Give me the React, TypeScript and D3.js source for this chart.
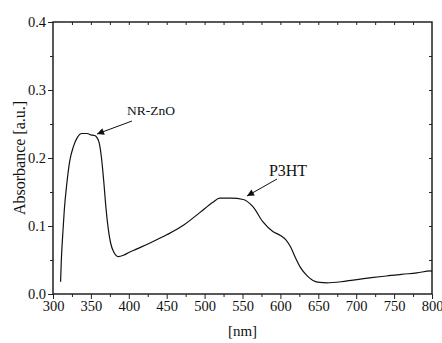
import { useRef, useEffect } from "react";
import * as d3 from "d3";

// wavelength [nm] and absorbance [a.u.]
const wavelength = [
  310, 311, 313, 315, 318, 322, 327, 332, 338, 345, 350, 355, 358, 361, 364, 367, 370, 373, 376, 380,
  386, 393, 400, 410, 428, 450, 472, 494, 511, 520, 535, 551, 564, 577, 590, 600, 607, 614, 620, 627,
  635, 643, 652, 661, 680, 696, 720, 740, 760, 780, 798, 800,
];
const absorbance = [
  0.018, 0.05, 0.09, 0.125, 0.16, 0.195, 0.217, 0.23, 0.236, 0.236, 0.234, 0.233, 0.23, 0.222, 0.2, 0.165, 0.125, 0.095, 0.075, 0.062,
  0.055, 0.057, 0.061, 0.066, 0.075, 0.087, 0.101, 0.12, 0.135, 0.141, 0.141, 0.139, 0.128, 0.106, 0.092, 0.086, 0.08, 0.068, 0.053, 0.038,
  0.027, 0.02, 0.017, 0.0165, 0.018, 0.0205, 0.024, 0.0265, 0.029, 0.031, 0.034, 0.033,
];
const xTicks = [300, 350, 400, 450, 500, 550, 600, 650, 700, 750, 800];
const yTicks = [0, 0.1, 0.2, 0.3, 0.4];

const W = 442, H = 343;
const FONT = '"Times New Roman", "Liberation Serif", "DejaVu Serif", serif';

export default function App() {
  const svgRef = useRef<SVGSVGElement>(null);

  useEffect(() => {
    if (!svgRef.current) return;
    const svg = d3.select(svgRef.current);
    svg.selectAll("*").remove();

    const margin = { top: 22, right: 10, bottom: 49, left: 53 };
    const width = W - margin.left - margin.right;
    const height = H - margin.top - margin.bottom;

    const x = d3.scaleLinear().domain([300, 800]).range([0, width]);
    const y = d3.scaleLinear().domain([0, 0.4]).range([height, 0]);

    const defs = svg.append("defs");
    defs.append("marker").attr("id", "head").attr("viewBox", "0 0 10 10")
      .attr("refX", 10).attr("refY", 5).attr("markerWidth", 9).attr("markerHeight", 7)
      .attr("markerUnits", "userSpaceOnUse").attr("orient", "auto")
      .append("path").attr("d", "M0,0 L10,5 L0,10 Z").attr("fill", "#111");

    const g = svg.append("g").attr("transform", `translate(${margin.left},${margin.top})`);

    const styleAxis = (el: d3.Selection<SVGGElement, unknown, null, undefined>, labels: boolean) => {
      el.attr("font-family", null).attr("font-size", null);
      el.select(".domain").remove();
      el.selectAll("line").attr("stroke", "#222").attr("stroke-width", 1);
      if (labels) el.selectAll("text").attr("fill", "#111").style("font-size", "14.5px").style("font-family", FONT);
    };

    // minor ticks
    const xMinor = d3.range(325, 800, 50);
    const yMinor = d3.range(0.05, 0.4, 0.1);
    g.append("g").attr("transform", `translate(0,${height})`)
      .call(d3.axisBottom(x).tickValues(xMinor).tickSize(3).tickFormat(() => ""))
      .call(el => styleAxis(el, false));
    g.append("g")
      .call(d3.axisLeft(y).tickValues(yMinor).tickSize(3).tickFormat(() => ""))
      .call(el => styleAxis(el, false));

    // major ticks + labels
    g.append("g").attr("transform", `translate(0,${height})`)
      .call(d3.axisBottom(x).tickValues(xTicks).tickSize(5).tickPadding(2).tickFormat(d3.format("d")))
      .call(el => styleAxis(el, true));
    g.append("g")
      .call(d3.axisLeft(y).tickValues(yTicks).tickSize(5).tickPadding(2).tickFormat(d3.format(".1f")))
      .call(el => styleAxis(el, true));

    // top & right inward ticks
    g.append("g")
      .call(d3.axisBottom(x).tickValues(d3.range(325, 800, 25)).tickSize(3).tickFormat(() => ""))
      .call(el => styleAxis(el, false));
    g.append("g").attr("transform", `translate(${width},0)`)
      .call(d3.axisLeft(y).tickValues(d3.range(0.05, 0.4, 0.05)).tickSize(3).tickFormat(() => ""))
      .call(el => styleAxis(el, false));

    // frame
    g.append("rect").attr("width", width).attr("height", height)
      .attr("fill", "none").attr("stroke", "#222").attr("stroke-width", 1.5);

    // spectrum
    const pts = wavelength.map((w, i) => [w, absorbance[i]] as [number, number]);
    const line = d3.line<[number, number]>().x(d => x(d[0])).y(d => y(d[1])).curve(d3.curveMonotoneX);
    g.append("path").datum(pts).attr("fill", "none").attr("stroke", "#111").attr("stroke-width", 1.2).attr("d", line);

    // annotations
    const annotate = (label: string, size: number, tx: number, ty: number, ax1: number, ay1: number, ax2: number, ay2: number) => {
      svg.append("text").attr("x", tx).attr("y", ty).attr("text-anchor", "middle")
        .style("font-family", FONT).style("font-size", `${size}px`).attr("fill", "#111").text(label);
      svg.append("line").attr("x1", ax1).attr("y1", ay1).attr("x2", ax2).attr("y2", ay2)
        .attr("stroke", "#111").attr("stroke-width", 1).attr("marker-end", "url(#head)");
    };
    annotate("NR-ZnO", 13.5, 151, 115, 132, 121, 97, 134);
    annotate("P3HT", 16, 288, 176, 277, 179, 247, 196);

    // axis titles
    svg.append("text").attr("x", margin.left + width / 2).attr("y", 336).attr("text-anchor", "middle")
      .style("font-family", FONT).style("font-size", "15px").attr("fill", "#111").text("[nm]");
    svg.append("text").attr("transform", `translate(25,${margin.top + height / 2}) rotate(-90)`)
      .attr("text-anchor", "middle").style("font-family", FONT).style("font-size", "16px").attr("fill", "#111")
      .text("Absorbance [a.u.]");
  }, []);

  return (
    <div style={{ position: "absolute", left: 0, top: 0, width: W, height: H, background: "#fff" }}>
      <svg ref={svgRef} width={W} height={H} />
    </div>
  );
}
